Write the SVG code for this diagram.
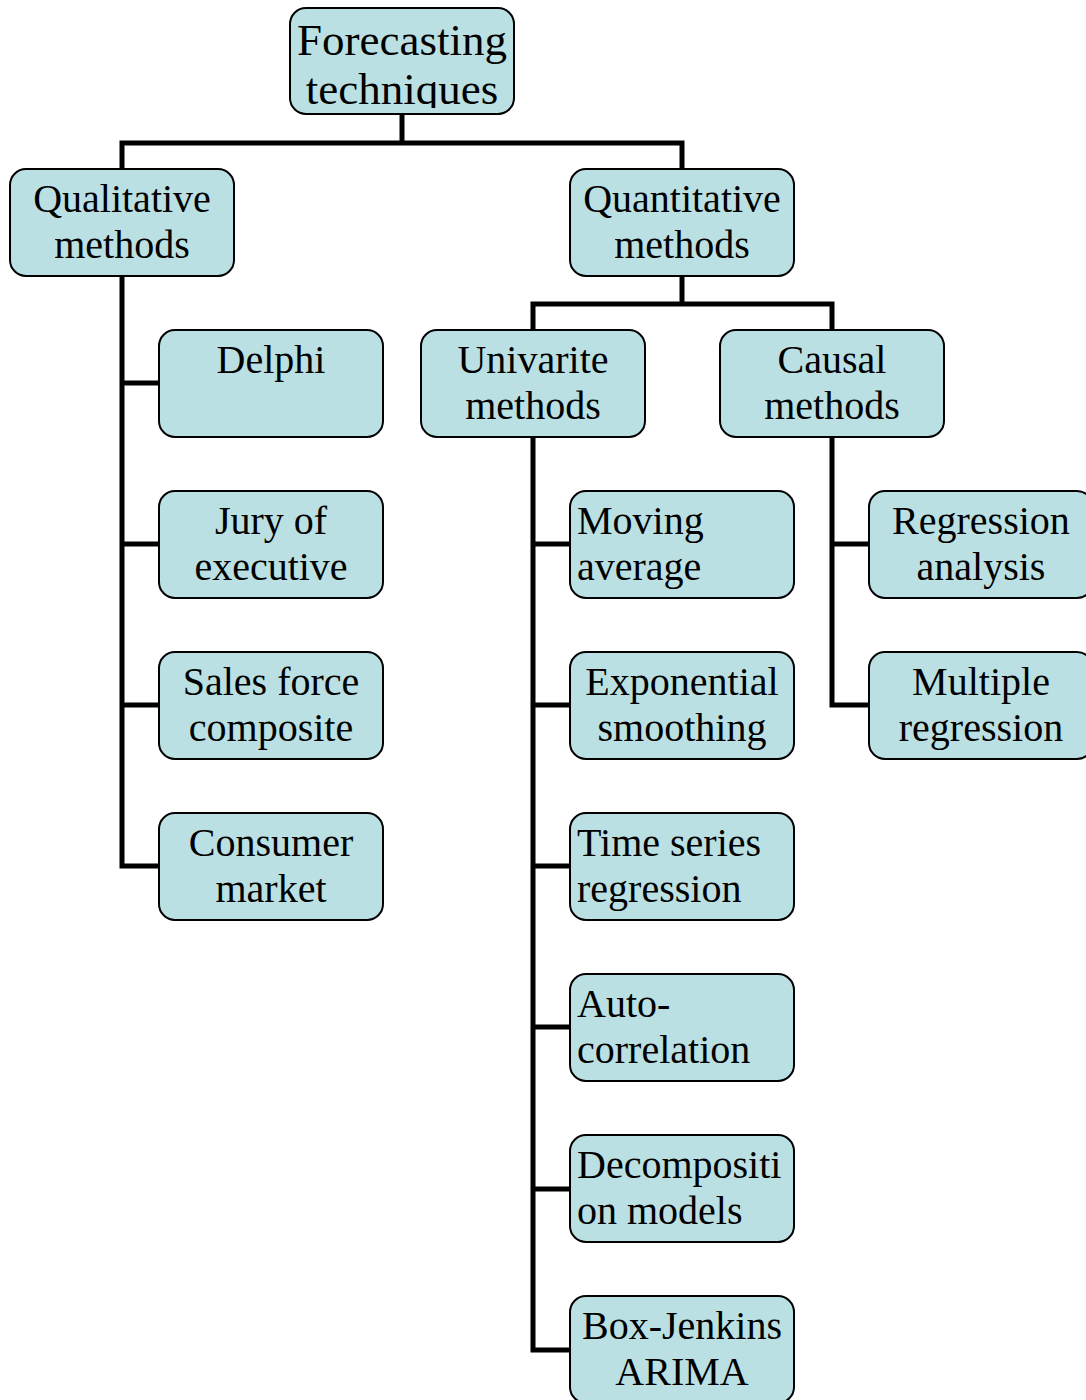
<svg xmlns="http://www.w3.org/2000/svg" width="1086" height="1400" viewBox="0 0 1086 1400">
<style>
.box{fill:#bbe0e3;stroke:#000;stroke-width:2}
text{font-family:'Liberation Serif','Times New Roman',Times,'DejaVu Serif',serif;font-size:40px;fill:#000}
.c{text-anchor:middle}
.big{font-size:45px}
.con{fill:none;stroke:#000;stroke-width:5}
</style>
<defs>
<clipPath id="clipTop"><rect x="290" y="8" width="224" height="100"/></clipPath>
</defs>
<rect width="1086" height="1400" fill="#fff"/>
<g id="connectors">
<polyline class="con" points="402,114 402,143"/>
<polyline class="con" points="122,169 122,143 682,143 682,169"/>
<polyline class="con" points="122,276 122,866 159,866"/>
<line class="con" x1="122" y1="383" x2="159" y2="383"/>
<line class="con" x1="122" y1="544" x2="159" y2="544"/>
<line class="con" x1="122" y1="705" x2="159" y2="705"/>
<polyline class="con" points="682,276 682,304"/>
<polyline class="con" points="533,330 533,304 832,304 832,330"/>
<polyline class="con" points="533,437 533,1350 570,1350"/>
<line class="con" x1="533" y1="544" x2="570" y2="544"/>
<line class="con" x1="533" y1="705" x2="570" y2="705"/>
<line class="con" x1="533" y1="866" x2="570" y2="866"/>
<line class="con" x1="533" y1="1027" x2="570" y2="1027"/>
<line class="con" x1="533" y1="1189" x2="570" y2="1189"/>
<polyline class="con" points="832,437 832,705 869,705"/>
<line class="con" x1="832" y1="544" x2="869" y2="544"/>
</g>
<g id="n-forecasting">
<rect class="box" x="290" y="8" width="224" height="106" rx="16"/>
<g clip-path="url(#clipTop)">
<text class="c big" x="402" y="55">Forecasting</text>
<text class="c big" x="402" y="104">techniques</text>
</g>
</g>
<g id="n-qualitative">
<rect class="box" x="10" y="169" width="224" height="107" rx="16"/>
<text class="c" x="122" y="212">Qualitative</text>
<text class="c" x="122" y="258">methods</text>
</g>
<g id="n-quantitative">
<rect class="box" x="570" y="169" width="224" height="107" rx="16"/>
<text class="c" x="682" y="212">Quantitative</text>
<text class="c" x="682" y="258">methods</text>
</g>
<g id="n-delphi">
<rect class="box" x="159" y="330" width="224" height="107" rx="16"/>
<text class="c" x="271" y="373">Delphi</text>
</g>
<g id="n-jury">
<rect class="box" x="159" y="491" width="224" height="107" rx="16"/>
<text class="c" x="271" y="534">Jury of</text>
<text class="c" x="271" y="580">executive</text>
</g>
<g id="n-sales">
<rect class="box" x="159" y="652" width="224" height="107" rx="16"/>
<text class="c" x="271" y="695">Sales force</text>
<text class="c" x="271" y="741">composite</text>
</g>
<g id="n-consumer">
<rect class="box" x="159" y="813" width="224" height="107" rx="16"/>
<text class="c" x="271" y="856">Consumer</text>
<text class="c" x="271" y="902">market</text>
</g>
<g id="n-univariate">
<rect class="box" x="421" y="330" width="224" height="107" rx="16"/>
<text class="c" x="533" y="373">Univarite</text>
<text class="c" x="533" y="419">methods</text>
</g>
<g id="n-causal">
<rect class="box" x="720" y="330" width="224" height="107" rx="16"/>
<text class="c" x="832" y="373">Causal</text>
<text class="c" x="832" y="419">methods</text>
</g>
<g id="n-moving">
<rect class="box" x="570" y="491" width="224" height="107" rx="16"/>
<text x="577" y="534">Moving</text>
<text x="577" y="580">average</text>
</g>
<g id="n-exponential">
<rect class="box" x="570" y="652" width="224" height="107" rx="16"/>
<text class="c" x="682" y="695">Exponential</text>
<text class="c" x="682" y="741">smoothing</text>
</g>
<g id="n-timeseries">
<rect class="box" x="570" y="813" width="224" height="107" rx="16"/>
<text x="577" y="856">Time series</text>
<text x="577" y="902">regression</text>
</g>
<g id="n-auto">
<rect class="box" x="570" y="974" width="224" height="107" rx="16"/>
<text x="577" y="1017">Auto-</text>
<text x="577" y="1063">correlation</text>
</g>
<g id="n-decomposition">
<rect class="box" x="570" y="1135" width="224" height="107" rx="16"/>
<text x="577" y="1178">Decompositi</text>
<text x="577" y="1224">on models</text>
</g>
<g id="n-boxjenkins">
<rect class="box" x="570" y="1296" width="224" height="107" rx="16"/>
<text class="c" x="682" y="1339">Box-Jenkins</text>
<text class="c" x="682" y="1385">ARIMA</text>
</g>
<g id="n-regression">
<rect class="box" x="869" y="491" width="224" height="107" rx="16"/>
<text class="c" x="981" y="534">Regression</text>
<text class="c" x="981" y="580">analysis</text>
</g>
<g id="n-multiple">
<rect class="box" x="869" y="652" width="224" height="107" rx="16"/>
<text class="c" x="981" y="695">Multiple</text>
<text class="c" x="981" y="741">regression</text>
</g>
</svg>
